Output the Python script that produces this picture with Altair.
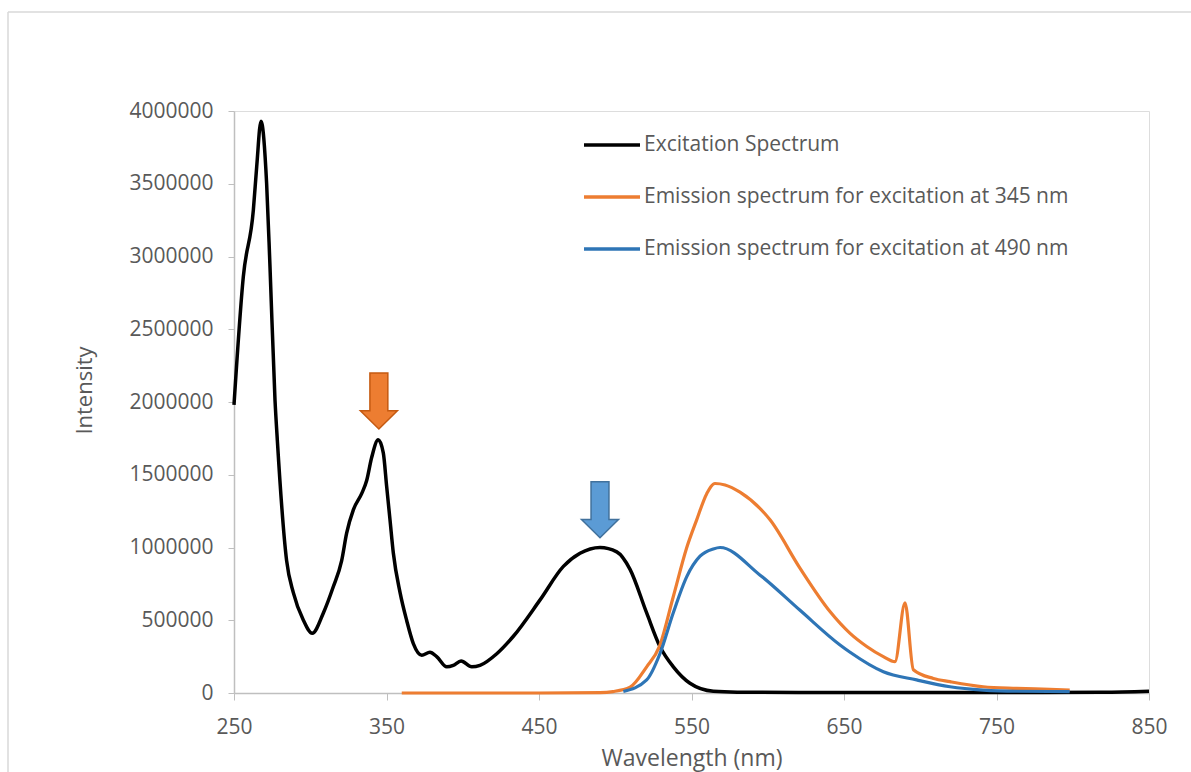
import altair as alt
import pandas as pd

# ---------------- data ----------------
exc_nm = [250, 256.1, 262.7, 264.9, 267.7, 271.4, 273.6, 276.9, 278.4, 284.5, 288.9, 295.5, 301.3,
          308.6, 315.1, 320.6, 323.9, 328.3, 333.7, 337.0, 340.3, 344.6, 347.9, 350.1, 352.3, 354.5,
          358.9, 363.2, 367.6, 373.1, 378.5, 382.9, 389.5, 393.8, 398.9, 405.9, 411.3, 422.3, 433.2,
          450.7, 466.0, 476.9, 490.0, 501.0, 509.7, 520.6, 529.3, 538.1, 549.0, 564.3, 580, 620, 700,
          780, 820, 850]
exc_val = [1.98, 2.86, 3.32, 3.62, 3.93, 3.50, 2.93, 2.01, 1.74, 0.91, 0.69, 0.50, 0.41,
           0.55, 0.73, 0.91, 1.10, 1.26, 1.37, 1.46, 1.62, 1.74, 1.65, 1.42, 1.19, 0.96,
           0.69, 0.50, 0.34, 0.26, 0.28, 0.25, 0.18, 0.19, 0.22, 0.18, 0.19, 0.27, 0.39,
           0.64, 0.87, 0.96, 1.00, 0.97, 0.85, 0.55, 0.32, 0.18, 0.067, 0.012, 0.006, 0.004, 0.003,
           0.003, 0.005, 0.012]

em345_nm = [360, 400, 450, 490, 498.5, 509.7, 520.6, 529.0, 538.0, 546.9, 553.4, 560.0, 565.4, 572.0,
            581.8, 601.5, 621.0, 640.8, 654.0, 664.9, 675.8, 683.4, 690.0, 695.5, 708.6, 719.5, 741.3,
            763.2, 785.0, 798.0]
em345_val = [0.0, 0.0, 0.0, 0.003, 0.01, 0.04, 0.18, 0.32, 0.66, 1.00, 1.19, 1.37, 1.44, 1.43,
             1.38, 1.19, 0.86, 0.56, 0.41, 0.32, 0.25, 0.215, 0.62, 0.16, 0.10, 0.078, 0.043,
             0.032, 0.025, 0.02]

em490_nm = [505.3, 520.6, 529.3, 538.0, 546.9, 555.6, 564.3, 568.7, 595.0, 621.0, 647.4, 654.0,
            675.8, 697.6, 719.5, 741.3, 763.0, 798.0]
em490_val = [0.01, 0.09, 0.27, 0.55, 0.80, 0.94, 0.99, 1.00, 0.81, 0.57, 0.33, 0.28,
             0.146, 0.09, 0.043, 0.02, 0.012, 0.01]

series_names = ["Excitation Spectrum",
                "Emission spectrum for excitation at 345 nm",
                "Emission spectrum for excitation at 490 nm"]
series_colors = ["#000000", "#ED7D31", "#2E75B6"]

arrow_nm = [345, 490]
arrow_val = [2.007, 1.26]
arrow_fill = ["#ED7D31", "#5B9BD5"]
arrow_stroke = ["#C55A11", "#41719C"]

x_ticks = [250, 350, 450, 550, 650, 750, 850]
y_ticks = [0, 500000, 1000000, 1500000, 2000000, 2500000, 3000000, 3500000, 4000000]

# ---------------- tables ----------------
rows = []
for name, xs, ys in zip(series_names, [exc_nm, em345_nm, em490_nm], [exc_val, em345_val, em490_val]):
    for x, y in zip(xs, ys):
        rows.append({"series": name, "nm": x, "val": y * 1e6})
df = pd.DataFrame(rows)

arrows = pd.DataFrame({"nm": arrow_nm, "val": [v * 1e6 for v in arrow_val],
                       "fill": arrow_fill, "stroke": arrow_stroke})

FONT = "Open Sans"
TXT = "#595959"
AX = "#BFBFBF"

xscale = alt.Scale(domain=[250, 850], nice=False, zero=False)
yscale = alt.Scale(domain=[0, 4000000], nice=False)
color = alt.Color("series:N",
                  scale=alt.Scale(domain=series_names, range=series_colors),
                  sort=series_names,
                  legend=alt.Legend(title=None, orient="none", legendX=348, legendY=4,
                                    symbolType="stroke", symbolSize=3136, symbolStrokeWidth=3.5,
                                    labelFont=FONT, labelFontSize=21, labelColor=TXT,
                                    labelOffset=2, rowPadding=12, labelLimit=700))

xenc = alt.X("nm:Q", scale=xscale,
             axis=alt.Axis(values=x_ticks, title="Wavelength (nm)", grid=False,
                           labelFlush=False, labelOverlap=False,
                           domainColor=AX, tickColor=AX, tickSize=7, domainWidth=1.5,
                           labelFont=FONT, labelFontSize=21, labelColor=TXT, labelPadding=16,
                           titleFont=FONT, titleFontSize=23, titleColor=TXT, titleFontWeight="normal",
                           titlePadding=10))
yenc = alt.Y("val:Q", scale=yscale,
             axis=alt.Axis(values=y_ticks, title="Intensity", grid=False, format="d",
                           labelFlush=False, labelOverlap=False,
                           domainColor=AX, tickColor=AX, tickSize=6, domainWidth=1.5,
                           labelFont=FONT, labelFontSize=21, labelColor=TXT, labelPadding=15,
                           titleFont=FONT, titleFontSize=22, titleColor=TXT, titleFontWeight="normal",
                           titlePadding=32, titleY=279))

layers = []
for name, w in zip(series_names, [3.5, 3.2, 3.2]):
    layers.append(
        alt.Chart(df).transform_filter(alt.datum.series == name)
        .mark_line(strokeWidth=w, interpolate="monotone")
        .encode(x=xenc, y=yenc, color=color)
    )

arrow_path = "M-0.32,-1 L0.32,-1 L0.32,0.35 L0.66,0.35 L0,1 L-0.66,0.35 L-0.32,0.35 Z"
arrow_layer = alt.Chart(arrows).mark_point(shape=arrow_path, size=3136, filled=True,
                                           strokeWidth=1.5, opacity=1).encode(
    x=alt.X("nm:Q", scale=xscale),
    y=alt.Y("val:Q", scale=yscale),
    fill=alt.Fill("fill:N", scale=None),
    stroke=alt.Stroke("stroke:N", scale=None),
)

# outer chart frame (decorative)
frame_left = alt.Chart(pd.DataFrame({"a": [0]})).mark_rule(color="#D9D9D9", strokeWidth=1.5).encode(
    x=alt.value(-226), y=alt.value(-99), y2=alt.value(700))
frame_top = alt.Chart(pd.DataFrame({"a": [0]})).mark_rule(color="#D9D9D9", strokeWidth=1.5).encode(
    x=alt.value(-226), x2=alt.value(1000), y=alt.value(-99))

chart = alt.layer(frame_left, frame_top, *layers, arrow_layer).properties(
    width=915, height=582,
    autosize=alt.AutoSizeParams(type="none"),
    padding={"left": 234, "top": 111, "right": 42, "bottom": 79},
).configure_view(stroke=None).configure(background="white")

chart.save("out.html", embed_options={"renderer": "svg", "actions": False})
